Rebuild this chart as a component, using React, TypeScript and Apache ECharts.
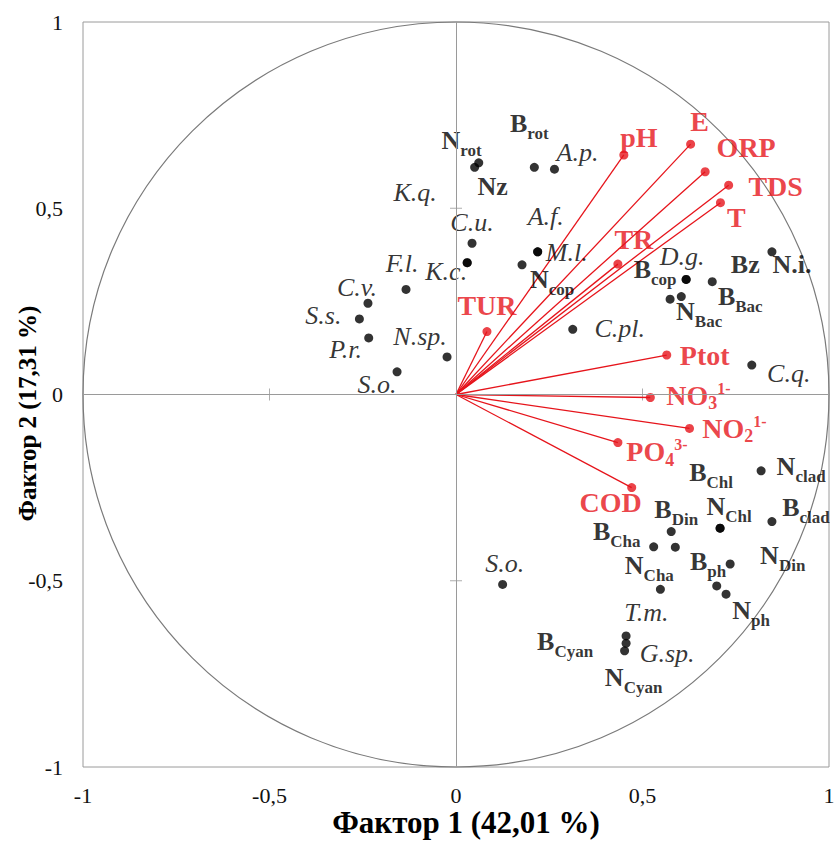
import React, { useEffect, useRef } from "react";
import * as echarts from "echarts";

// ---------- DATA ----------
const axisTickValues = [-1, -0.5, 0, 0.5, 1];
const innerTickValues = [-0.5, 0.5];
const circleRadius = 1;

// environmental variables (red vectors)
const envNames = ["pH", "E", "ORP", "TDS", "T", "TR", "TUR", "Ptot", "NO_3^1-", "NO_2^1-", "PO_4^3-", "COD"];
const envX = [0.45, 0.629, 0.668, 0.731, 0.709, 0.434, 0.083, 0.565, 0.521, 0.626, 0.434, 0.471];
const envY = [0.643, 0.672, 0.598, 0.562, 0.515, 0.35, 0.169, 0.106, -0.008, -0.091, -0.129, -0.25];

// biological variables (black points)
const bioNames = [
  "N_rot", "B_rot", "A.p.", "Nz", "K.q.", "C.u.", "A.f.", "M.l.", "F.l.", "K.c.",
  "N_cop", "C.v.", "S.s.", "P.r.", "S.o.", "N.sp.", "C.pl.", "D.g.", "B_cop", "Bz",
  "N.i.", "B_Bac", "N_Bac", "C.q.", "B_Chl", "N_clad", "N_Chl", "B_clad", "B_Din", "B_Cha",
  "N_Cha", "B_ph", "N_Din", "N_ph", "T.m.", "S.o.", "B_Cyan", "G.sp.", "N_Cyan",
];
const bioX = [
  0.05, 0.21, 0.264, 0.061, 0.03, 0.043, 0.219, 0.219, -0.134, 0.03,
  0.177, -0.236, -0.259, -0.234, -0.158, -0.024, 0.313, 0.617, 0.617, 0.687,
  0.847, 0.604, 0.574, 0.793, 0.708, 0.818, 0.708, 0.847, 0.577, 0.53,
  0.588, 0.735, 0.699, 0.724, 0.548, 0.125, 0.456, 0.456, 0.452,
];
const bioY = [
  0.61, 0.61, 0.605, 0.622, 0.354, 0.406, 0.383, 0.383, 0.282, 0.354,
  0.348, 0.245, 0.203, 0.152, 0.061, 0.101, 0.175, 0.309, 0.309, 0.303,
  0.383, 0.263, 0.256, 0.079, -0.359, -0.205, -0.359, -0.341, -0.368, -0.409,
  -0.41, -0.455, -0.514, -0.536, -0.523, -0.51, -0.648, -0.668, -0.688,
];

const xTitle = "Фактор 1 (42,01 %)";
const yTitle = "Фактор 2 (17,31 %)";

// ---------- STYLE / LAYOUT ----------
const FONT = "'Liberation Serif', 'Times New Roman', serif";
const RED = "#e6141b";
const GRAY = "#9a9a9a";

const envLabelOffsets: number[][] = [
  [15, -17], [9, -23], [41, -24], [47, 1], [16, 15], [16, -25], [0, -26], [38, 0],
  [48, -2], [45, 0], [39, 9], [-21, 15],
];
const bioLabelOffsets: number[][] = [
  [-13, -27], [-5, -44], [23, -17], [14, 24], [-52, -70], [0, -21], [8, -35], [29, 1], [-4, -26], [-21, 9],
  [30, 15], [-11, -16], [-36, -3], [-23, 12], [-20, 13], [-27, -20], [47, -1], [-4, -23], [-31, -10], [33, -17],
  [20, 13], [59, 0], [29, 12], [37, 8], [-9, -56], [40, -4], [9, -22], [34, -14], [5, -22], [-37, -15],
  [-26, 18], [-22, -2], [66, -30], [25, 16], [-14, 23], [2, -21], [-61, 6], [41, 10], [9, 27],
];

function richText(name: string, red: boolean): string {
  const m = name.match(/^([^_^]+)(?:_([^\^]+))?(?:\^(.+))?$/) || [name, name];
  const main = m[1];
  const sub = m[2];
  const sup = m[3];
  const italic = !red && name.includes(".") && name !== "N.i.";
  const base = red ? "rd" : italic ? "it" : "bk";
  let s = `{${base}|${main}}`;
  if (sub) s += `{${base}Sub|${sub}}`;
  if (sup) s += `{${base}Sup|${sup}}`;
  return s;
}

const rich = {
  bk: { fontFamily: FONT, fontSize: 26, fontWeight: "bold", color: "#000", lineHeight: 24 },
  bkSub: { fontFamily: FONT, fontSize: 17, fontWeight: "bold", color: "#000", padding: [20, 0, 0, 0], lineHeight: 10 },
  it: { fontFamily: FONT, fontSize: 26, fontStyle: "italic", color: "#000", lineHeight: 24 },
  rd: { fontFamily: FONT, fontSize: 28, fontWeight: "bold", color: RED, lineHeight: 26 },
  rdSub: { fontFamily: FONT, fontSize: 18, fontWeight: "bold", color: RED, padding: [16, 0, 0, 0], lineHeight: 10 },
  rdSup: { fontFamily: FONT, fontSize: 16, fontWeight: "bold", color: RED, padding: [0, 0, 14, 0], lineHeight: 10 },
};

const fmtTick = (v: number) => String(v).replace(".", ",");

export default function App() {
  const ref = useRef<HTMLDivElement>(null);

  useEffect(() => {
    document.body.style.margin = "0";
    if (!ref.current) return;
    const chart = echarts.init(ref.current, null, { renderer: "svg" });

    const bioData = bioNames.map((n, i) => ({
      name: n,
      value: [bioX[i], bioY[i]],
      label: { offset: bioLabelOffsets[i], formatter: richText(n, false) },
    }));
    const envData = envNames.map((n, i) => ({
      name: n,
      value: [envX[i], envY[i]],
      label: { offset: envLabelOffsets[i], formatter: richText(n, true) },
    }));
    const vectorData = envNames.map((n, i) => ({ coords: [[0, 0], [envX[i], envY[i]]] }));

    const option: any = {
      animation: false,
      backgroundColor: "#fff",
      grid: {
        left: 83, right: 6, top: 22, bottom: 81,
        outerBoundsMode: "none",
        containLabel: false,
        show: true, borderColor: GRAY, borderWidth: 1, backgroundColor: "transparent",
      },
      xAxis: {
        type: "value", min: axisTickValues[0], max: axisTickValues[axisTickValues.length - 1], interval: 0.5,
        position: "bottom",
        axisLine: { show: false, onZero: false },
        axisTick: { show: false },
        splitLine: { show: false },
        axisLabel: { margin: 17, fontSize: 22, fontFamily: FONT, color: "#111", formatter: fmtTick },
        name: xTitle, nameLocation: "middle", nameGap: 55, nameMoveOverlap: false,
        nameTextStyle: {
          fontSize: 31, fontWeight: "bold", fontFamily: FONT, color: "#000",
          verticalAlign: "middle", lineHeight: 28, padding: [0, 0, 0, 20],
        },
      },
      yAxis: {
        type: "value", min: axisTickValues[0], max: axisTickValues[axisTickValues.length - 1], interval: 0.5,
        position: "left",
        axisLine: { show: false, onZero: false },
        axisTick: { show: false },
        splitLine: { show: false },
        axisLabel: { margin: 20, fontSize: 22, fontFamily: FONT, color: "#111", formatter: fmtTick },
        name: yTitle, nameLocation: "middle", nameGap: 56, nameRotate: 90, nameMoveOverlap: false,
        nameTextStyle: {
          fontSize: 25, fontWeight: "bold", fontFamily: FONT, color: "#000",
          verticalAlign: "middle", padding: [0, 38, 0, 0],
        },
      },
      series: [
        {
          type: "custom",
          silent: true,
          z: 1,
          clip: false,
          data: [[0, 0, circleRadius]],
          renderItem: (params: any, api: any) => {
            const c = api.coord([api.value(0), api.value(1)]);
            const r = api.value(2);
            const sz = api.size([r, r]);
            return {
              type: "ellipse",
              shape: { cx: c[0], cy: c[1], rx: sz[0], ry: sz[1] },
              style: { fill: "none", stroke: "#7a7a7a", lineWidth: 1.2 },
            };
          },
        },
        {
          type: "scatter",
          silent: true,
          z: 2,
          symbol: "rect",
          symbolSize: [1, 12],
          itemStyle: { color: GRAY },
          data: innerTickValues.map((v) => [v, 0]),
          markLine: {
            silent: true,
            symbol: "none",
            label: { show: false },
            lineStyle: { color: GRAY, width: 1, type: "solid" },
            data: [{ xAxis: 0 }, { yAxis: 0 }],
          },
        },
        {
          type: "scatter",
          silent: true,
          z: 2,
          symbol: "rect",
          symbolSize: [12, 1],
          itemStyle: { color: GRAY },
          data: innerTickValues.map((v) => [0, v]),
        },
        {
          type: "lines",
          coordinateSystem: "cartesian2d",
          silent: true,
          z: 3,
          symbol: "none",
          lineStyle: { color: RED, width: 1.3, opacity: 1 },
          data: vectorData,
        },
        {
          type: "scatter",
          z: 4,
          symbolSize: 9,
          itemStyle: { color: RED },
          label: { show: true, position: "inside", align: "center", verticalAlign: "middle", rich },
          data: envData,
        },
        {
          type: "scatter",
          z: 4,
          symbolSize: 9,
          itemStyle: { color: "#000" },
          label: { show: true, position: "inside", align: "center", verticalAlign: "middle", rich },
          data: bioData,
        },
      ],
    };
    chart.setOption(option);
    return () => chart.dispose();
  }, []);

  return <div ref={ref} style={{ width: 835, height: 848 }} />;
}
